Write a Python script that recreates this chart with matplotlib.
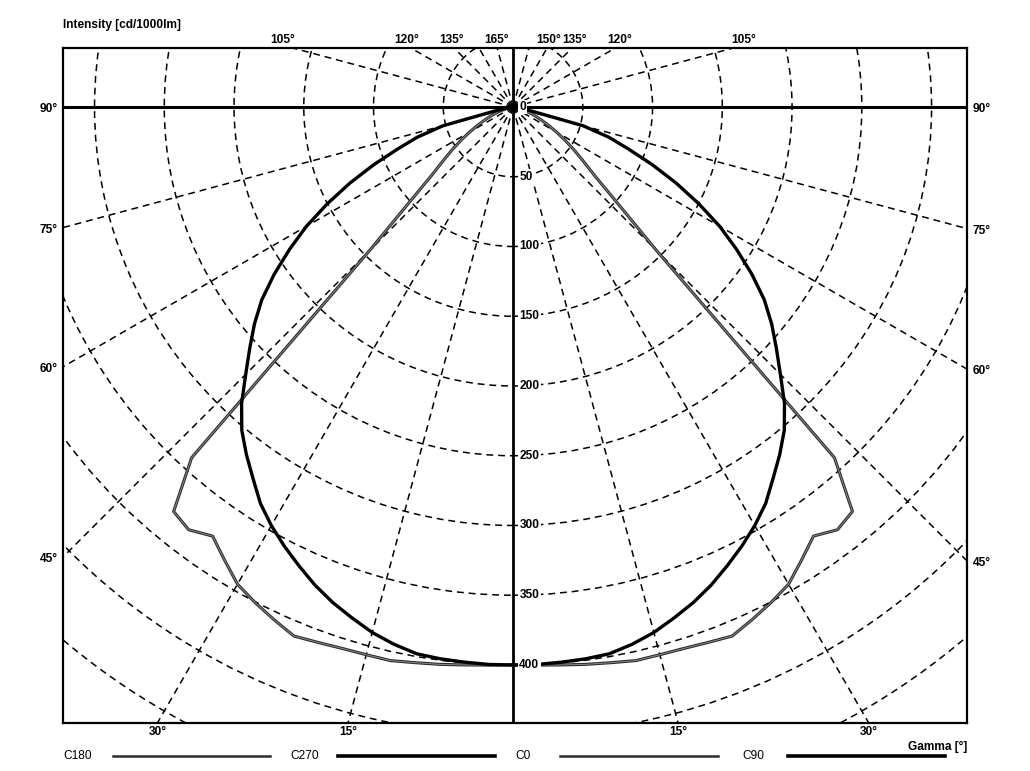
import matplotlib
matplotlib.use("Agg")
import numpy as np
import matplotlib.pyplot as plt
from matplotlib.patches import Circle
from matplotlib.lines import Line2D

# ---------------- data ----------------
gamma_deg = [0, 2.5, 5, 7.5, 10, 12.5, 15, 17.5, 20, 22.5, 25, 27.5, 30, 32.5,
             35, 37.5, 40, 42.5, 45, 47.5, 50, 52.5, 55, 57.5, 60, 62.5, 65,
             67.5, 70, 72.5, 75, 77.5, 80, 82.5, 85, 87.5, 90]

# C0 / C180 plane (thin grey batwing curve), cd/1000lm
intensity_c0 = [400, 400.5, 401.5, 403, 404.5, 406.5, 406.5, 407, 408.5, 410.5,
                405.5, 400.5, 395, 385, 375.5, 382, 378.5, 341, 145, 100, 76, 63,
                53, 44, 36, 29, 23, 18, 14, 10, 7, 4, 2, 1, 0.5, 0, 0]
intensity_c180 = list(intensity_c0)

# C90 / C270 plane (thick black rounded curve), cd/1000lm
intensity_c90 = [400, 400, 399.5, 399, 398, 394.5, 390, 384, 378, 371, 363, 355,
                 346.5, 337, 325, 314, 302.5, 288, 271, 256, 242, 227, 209, 190,
                 171, 150, 129, 108, 88, 72, 52, 14, 4, 1.5, 0.5, 0, 0]
intensity_c270 = list(intensity_c90)

grid_radii = [50, 100, 150, 200, 250, 300, 350, 400, 450, 500, 550, 600]
radius_labels = [0, 50, 100, 150, 200, 250, 300, 350, 400]
radial_angles = [15, 30, 45, 60, 75, 105, 120, 135, 150, 165]
side_labels = [90, 75, 60, 45]
bottom_labels = [30, 15]
top_labels_left = [105, 120, 135, 165]
top_labels_right = [150, 135, 120, 105]
legend_names = ["C180", "C270", "C0", "C90"]

# ---------------- styling ----------------
W, H = 1030, 771
FONT = ["Liberation Sans", "DejaVu Sans"]
plt.rcParams["font.family"] = FONT

fig = plt.figure(figsize=(W / 100, H / 100), dpi=100)
ax = fig.add_axes([63 / W, 1 - 723 / H, 904 / W, 675 / H])
XMIN, XMAX = -322.6, 325.4
YMIN, YMAX = -441.6, 42.3
ax.set_xlim(XMIN, XMAX)
ax.set_ylim(YMIN, YMAX)
ax.set_xticks([])
ax.set_yticks([])
for sp in ax.spines.values():
    sp.set_linewidth(1.6)
    sp.set_color("black")

dash = (0, (4.5, 3.2))
for r in grid_radii:
    ax.add_patch(Circle((0, 0), r, fill=False, ls=dash, lw=1.1,
                        color="black", zorder=1))
for a in radial_angles:
    t = np.deg2rad(a)
    for s in (-1, 1):
        ax.plot([0, s * 1000 * np.sin(t)], [0, -1000 * np.cos(t)],
                ls=dash, lw=1.1, color="black", zorder=1)

# solid axes lines
ax.axhline(0, color="black", lw=2.2, zorder=3)
ax.axvline(0, color="black", lw=2.0, zorder=3)


def to_xy(g, vals, side):
    g = np.deg2rad(np.asarray(g, dtype=float))
    v = np.asarray(vals, dtype=float)
    return side * v * np.sin(g), -v * np.cos(g)


def thin_curve(x, y):
    ax.plot(x, y, color="#2a2a2a", lw=2.2, zorder=4)
    ax.plot(x, y, color="#8a8a8a", lw=0.7, zorder=5)


def thick_curve(x, y):
    ax.plot(x, y, color="black", lw=2.4, zorder=6)


thin_curve(*to_xy(gamma_deg, intensity_c180, -1))
thin_curve(*to_xy(gamma_deg, intensity_c0, 1))
thick_curve(*to_xy(gamma_deg, intensity_c270, -1))
thick_curve(*to_xy(gamma_deg, intensity_c90, 1))
ax.plot([0], [0], "o", color="black", ms=5, zorder=7)

fs = 8.6
# radial value labels
for v in radius_labels:
    ax.annotate(str(v), xy=(0, -v), xytext=(4.5, 0), textcoords="offset points",
                ha="left", va="center", fontsize=fs, fontweight="bold",
                bbox=dict(boxstyle="square,pad=0.12", fc="white", ec="none"),
                zorder=8)

# left / right angle labels
for a in side_labels:
    t = np.deg2rad(a)
    yl = XMIN / np.tan(t) if a != 90 else 0.0
    yr = -XMAX / np.tan(t) if a != 90 else 0.0
    ax.annotate(f"{a}°", xy=(XMIN, yl), xytext=(-4, -1.5), textcoords="offset points",
                ha="right", va="center", fontsize=fs, fontweight="bold",
                annotation_clip=False)
    ax.annotate(f"{a}°", xy=(XMAX, yr), xytext=(4, -1.5), textcoords="offset points",
                ha="left", va="center", fontsize=fs, fontweight="bold",
                annotation_clip=False)

# bottom labels
for a in bottom_labels:
    t = np.deg2rad(a)
    xb = -YMIN * np.tan(t)
    for s in (-1, 1):
        ax.annotate(f"{a}°", xy=(s * xb, YMIN), xytext=(0, -2), textcoords="offset points",
                    ha="center", va="top", fontsize=fs, fontweight="bold",
                    annotation_clip=False)

# top labels (angles beyond 90°)
for a, s in [(x, -1) for x in top_labels_left] + [(x, 1) for x in top_labels_right]:
    t = np.deg2rad(180 - a)
    xt = s * YMAX * np.tan(t) * 1.045
    ax.annotate(f"{a}°", xy=(xt, YMAX), xytext=(0, 1.5), textcoords="offset points",
                ha="center", va="bottom", fontsize=fs, fontweight="bold",
                annotation_clip=False)

fig.text(63 / W, 1 - 25 / H, "Intensity [cd/1000lm]", ha="left", va="center",
         fontsize=fs, fontweight="bold")
fig.text(967 / W, 1 - 747 / H, "Gamma [°]", ha="right", va="center",
         fontsize=fs, fontweight="bold")

# legend row
ly = 1 - 756 / H
text_x = [63, 290, 515, 742]
line_x = [(113, 270), (338, 495), (560, 718), (788, 945)]
for i, name in enumerate(legend_names):
    fig.text(text_x[i] / W, ly, name, ha="left", va="center", fontsize=fs)
    x0, x1 = line_x[i]
    if name in ("C180", "C0"):
        fig.add_artist(Line2D([x0 / W, x1 / W], [ly, ly], color="#2a2a2a", lw=1.8))
    else:
        fig.add_artist(Line2D([x0 / W, x1 / W], [ly, ly], color="black", lw=2.6))

fig.savefig("out.png", dpi=100)
